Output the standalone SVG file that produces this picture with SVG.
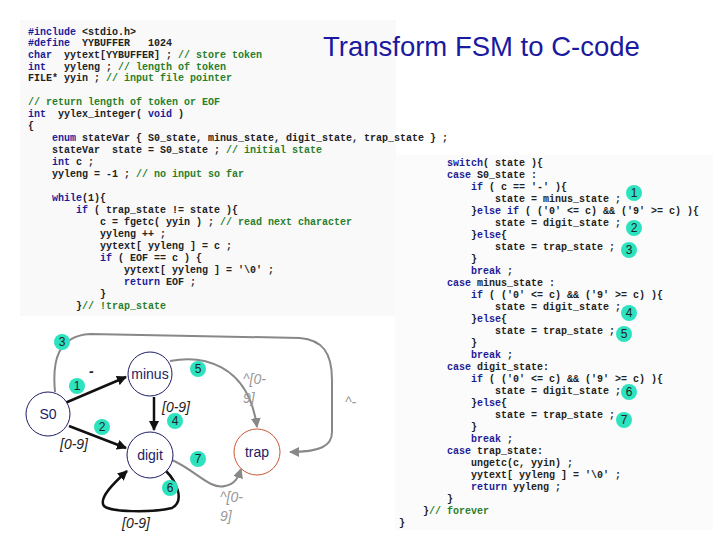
<svg xmlns="http://www.w3.org/2000/svg" width="720" height="540" viewBox="0 0 720 540" xml:space="preserve">
<style>
.code text{font-family:"Liberation Mono",monospace;font-size:10px;font-weight:bold;fill:#222;white-space:pre}
.k{fill:#1c1c99}.c{fill:#2a7f2a}
.badge circle{fill:#2de3bf}
.badge text{font-family:"Liberation Sans",Arial,sans-serif;font-size:12px;fill:#222;text-anchor:middle}
.node circle{fill:#fff;stroke:#1c1c66;stroke-width:1}
.node text{font-family:"Liberation Sans",Arial,sans-serif;font-size:14px;fill:#1c1c66;text-anchor:middle}
.lbl{font-family:"Liberation Sans",Arial,sans-serif;font-size:14px;font-style:italic;fill:#222}
.glbl{font-family:"Liberation Sans",Arial,sans-serif;font-size:14px;font-style:italic;fill:#999}
.e{fill:none;stroke:#111;stroke-width:2.5}
.g{fill:none;stroke:#888;stroke-width:2}
</style>
<defs>
<marker id="ab" viewBox="0 0 10 10" refX="9" refY="5" markerWidth="4" markerHeight="4" orient="auto"><path d="M0,0L10,5L0,10z" fill="#111"/></marker>
<marker id="ag" viewBox="0 0 10 10" refX="9" refY="5" markerWidth="5" markerHeight="5" orient="auto"><path d="M0,0L10,5L0,10z" fill="#888"/></marker>
</defs>
<rect width="720" height="540" fill="#fff"/>
<rect x="20" y="20" width="376" height="296" fill="#f9f9f9"/>
<rect x="395" y="155" width="318" height="375" fill="#fbfbfb"/>
<text x="323" y="56" font-family="Liberation Sans,Arial,sans-serif" font-size="27.5" fill="#1a1aa0">Transform FSM to C-code</text>
<g id="code-left" class="code">
<text x="28" y="35"><tspan class="k">#include</tspan> &lt;stdio.h&gt;</text>
<text x="28" y="46"><tspan class="k">#define</tspan>  YYBUFFER   1024</text>
<text x="28" y="58"><tspan class="k">char</tspan>  yytext[YYBUFFER] ; <tspan class="c">// store token</tspan></text>
<text x="28" y="70"><tspan class="k">int</tspan>   yyleng ; <tspan class="c">// length of token</tspan></text>
<text x="28" y="81">FILE* yyin ; <tspan class="c">// input file pointer</tspan></text>
<text x="28" y="105"><tspan class="c">// return length of token or EOF</tspan></text>
<text x="28" y="117"><tspan class="k">int</tspan>  yylex_integer( <tspan class="k">void</tspan> )</text>
<text x="28" y="129">{</text>
<text x="28" y="141">    <tspan class="k">enum</tspan> stateVar { S0_state, minus_state, digit_state, trap_state } ;</text>
<text x="28" y="153">    stateVar  state = S0_state ; <tspan class="c">// initial state</tspan></text>
<text x="28" y="165">    <tspan class="k">int</tspan> c ;</text>
<text x="28" y="177">    yyleng = -1 ; <tspan class="c">// no input so far</tspan></text>
<text x="28" y="201">    <tspan class="k">while</tspan>(1){</text>
<text x="28" y="213">        <tspan class="k">if</tspan> ( trap_state != state ){</text>
<text x="28" y="225">            c = fgetc( yyin ) ; <tspan class="c">// read next character</tspan></text>
<text x="28" y="237">            yyleng ++ ;</text>
<text x="28" y="249">            yytext[ yyleng ] = c ;</text>
<text x="28" y="261">            <tspan class="k">if</tspan> ( EOF == c ) {</text>
<text x="28" y="273">                yytext[ yyleng ] = '\0' ;</text>
<text x="28" y="285">                <tspan class="k">return</tspan> EOF ;</text>
<text x="28" y="297">            }</text>
<text x="28" y="309">        }<tspan class="c">// !trap_state</tspan></text>
</g>
<g id="code-right" class="code">
<text x="447" y="166"><tspan class="k">switch</tspan>( state ){</text>
<text x="447" y="178"><tspan class="k">case</tspan> S0_state :</text>
<text x="447" y="190">    <tspan class="k">if</tspan> ( c == '-' ){</text>
<text x="447" y="202">        state = minus_state ;</text>
<text x="447" y="214">    }<tspan class="k">else if</tspan> ( ('0' &lt;= c) &amp;&amp; ('9' &gt;= c) ){</text>
<text x="447" y="226">        state = digit_state ;</text>
<text x="447" y="238">    }<tspan class="k">else</tspan>{</text>
<text x="447" y="250">        state = trap_state ;</text>
<text x="447" y="262">    }</text>
<text x="447" y="274">    <tspan class="k">break</tspan> ;</text>
<text x="447" y="286"><tspan class="k">case</tspan> minus_state :</text>
<text x="447" y="298">    <tspan class="k">if</tspan> ( ('0' &lt;= c) &amp;&amp; ('9' &gt;= c) ){</text>
<text x="447" y="310">        state = digit_state ;</text>
<text x="447" y="322">    }<tspan class="k">else</tspan>{</text>
<text x="447" y="334">        state = trap_state ;</text>
<text x="447" y="346">    }</text>
<text x="447" y="358">    <tspan class="k">break</tspan> ;</text>
<text x="447" y="370"><tspan class="k">case</tspan> digit_state:</text>
<text x="447" y="382">    <tspan class="k">if</tspan> ( ('0' &lt;= c) &amp;&amp; ('9' &gt;= c) ){</text>
<text x="447" y="394">        state = digit_state ;</text>
<text x="447" y="406">    }<tspan class="k">else</tspan>{</text>
<text x="447" y="418">        state = trap_state ;</text>
<text x="447" y="430">    }</text>
<text x="447" y="442">    <tspan class="k">break</tspan> ;</text>
<text x="447" y="454"><tspan class="k">case</tspan> trap_state:</text>
<text x="447" y="466">    ungetc(c, yyin) ;</text>
<text x="447" y="478">    yytext[ yyleng ] = '\0' ;</text>
<text x="447" y="490">    <tspan class="k">return</tspan> yyleng ;</text>
<text x="447" y="502">}</text>
<text x="423" y="514">}<tspan class="c">// forever</tspan></text>
<text x="399" y="526">}</text>
</g>
<g id="connectors">
<path class="g" d="M55,392 C52,360 58,336 90,334 L300,338 C322,340 332,352 332,380 L332,432 C332,446 320,452 290,452" marker-end="url(#ag)"/>
<path class="g" d="M170,361 C200,355 248,362 257,427" marker-end="url(#ag)"/>
<path class="g" d="M172,460 C195,470 210,490 225,486 C235,484 238,478 241,469" marker-end="url(#ag)"/>
<path class="e" d="M65,403 L126,377" marker-end="url(#ab)"/>
<path class="e" d="M69,426 L126,448" marker-end="url(#ab)"/>
<path class="e" d="M154,397 L154,430" marker-end="url(#ab)"/>
<path class="e" d="M166,471 C175,480 186,500 172,508 C150,513 110,512 104,506 C98,498 115,482 127,471" marker-end="url(#ab)"/>
</g>
<text class="lbl" x="89" y="376" font-style="normal" font-weight="bold">-</text>
<text class="lbl" x="60" y="449">[0-9]</text>
<text class="lbl" x="162" y="412">[0-9]</text>
<text class="lbl" x="122" y="528">[0-9]</text>
<text class="glbl" x="243" y="384">^[0-</text>
<text class="glbl" x="243" y="403">9]</text>
<text class="glbl" x="220" y="502">^[0-</text>
<text class="glbl" x="220" y="521">9]</text>
<text class="glbl" x="345" y="407">^-</text>
<g id="S0" class="node"><circle cx="48" cy="414" r="22"/><text x="48" y="419">S0</text></g>
<g id="minus" class="node"><circle cx="150" cy="374" r="22"/><text x="150" y="379">minus</text></g>
<g id="digit" class="node"><circle cx="150" cy="455" r="23"/><text x="150" y="460">digit</text></g>
<g id="trap" class="node"><circle cx="257" cy="452" r="23" style="stroke:#cc5533"/><text x="257" y="457">trap</text></g>
<g class="badge">
<g id="b3"><circle cx="62" cy="342" r="8"/><text x="62" y="346">3</text></g>
<g id="b1"><circle cx="77" cy="386" r="8"/><text x="77" y="390">1</text></g>
<g id="b2"><circle cx="102" cy="427" r="8"/><text x="102" y="431">2</text></g>
<g id="b5"><circle cx="198" cy="369" r="8"/><text x="198" y="373">5</text></g>
<g id="b4"><circle cx="175" cy="421" r="8"/><text x="175" y="425">4</text></g>
<g id="b7"><circle cx="198" cy="459" r="8"/><text x="198" y="463">7</text></g>
<g id="b6"><circle cx="170" cy="488" r="8"/><text x="170" y="492">6</text></g>
<g id="r1"><circle cx="634" cy="193" r="8"/><text x="634" y="197">1</text></g>
<g id="r2"><circle cx="634" cy="228" r="8"/><text x="634" y="232">2</text></g>
<g id="r3"><circle cx="629" cy="250" r="8"/><text x="629" y="254">3</text></g>
<g id="r4"><circle cx="629" cy="313" r="8"/><text x="629" y="317">4</text></g>
<g id="r5"><circle cx="624" cy="334" r="8"/><text x="624" y="338">5</text></g>
<g id="r6"><circle cx="629" cy="392" r="8"/><text x="629" y="396">6</text></g>
<g id="r7"><circle cx="624" cy="420" r="8"/><text x="624" y="424">7</text></g>
</g>
</svg>
